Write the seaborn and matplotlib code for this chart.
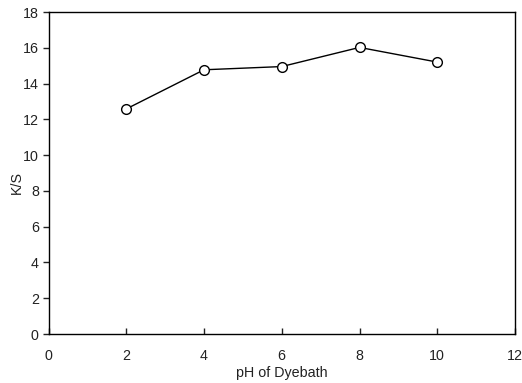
import matplotlib
matplotlib.use("Agg")
import matplotlib.pyplot as plt
import seaborn as sns
import pandas as pd

ph = [2, 4, 6, 8, 10]
ks = [12.58, 14.77, 14.95, 16.02, 15.2]
x_ticks = [0, 2, 4, 6, 8, 10, 12]
y_ticks = [0, 2, 4, 6, 8, 10, 12, 14, 16, 18]

sns.set_theme(style="ticks")
plt.rcParams['font.family'] = ['Liberation Sans', 'DejaVu Sans']

df = pd.DataFrame({"pH": ph, "KS": ks})
fig = plt.figure(figsize=(5.22, 3.83), dpi=100)
ax = fig.add_axes([48.5/522, 1 - 334/383, (515-48.5)/522, (334-12)/383])
sns.lineplot(data=df, x="pH", y="KS", ax=ax, color="black", linewidth=1.0,
             marker="o", markersize=7, markerfacecolor="white",
             markeredgecolor="black", markeredgewidth=1.0)
ax.set_xlim(0, 12)
ax.set_ylim(0, 18)
ax.set_xticks(x_ticks)
ax.set_yticks(y_ticks)
ax.tick_params(axis="x", direction="in", length=4, width=1, labelsize=10.3, pad=11, colors="#222222")
ax.tick_params(axis="y", direction="out", length=4, width=1, labelsize=10.3, pad=3, colors="#222222")
for s in ax.spines.values():
    s.set_color("black")
    s.set_linewidth(1.0)
ax.set_xlabel("pH of Dyebath", fontsize=10.3, color="#222222")
ax.set_ylabel("K/S", fontsize=10.3, color="#222222")
ax.xaxis.set_label_coords(0.5, -0.121)
ax.yaxis.set_label_coords(-0.0675, 0.469)
ax.xaxis.label.set_va("center")
ax.yaxis.label.set_va("center")
fig.savefig("out.png", dpi=100)
